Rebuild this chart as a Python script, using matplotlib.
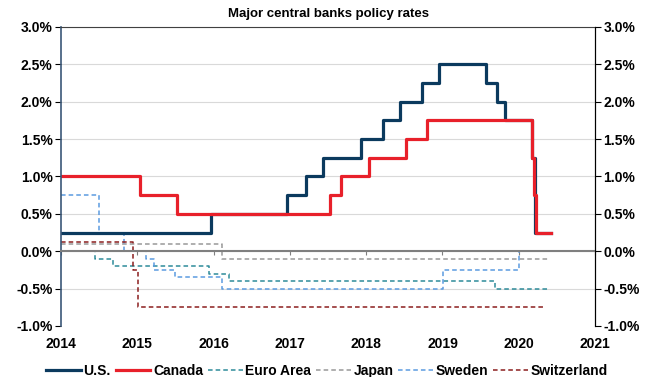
import matplotlib
matplotlib.use("Agg")
import matplotlib.pyplot as plt
from matplotlib.ticker import FuncFormatter

plt.rcParams['font.family'] = ['Liberation Sans', 'DejaVu Sans']
plt.rcParams['font.weight'] = 'bold'
plt.rcParams['font.size'] = 10

# policy rate change points (decimal year, rate %), held until the next point
us_x = [2014.0, 2015.96, 2016.96, 2017.21, 2017.43, 2017.93, 2018.22, 2018.44,
        2018.73, 2018.95, 2019.57, 2019.71, 2019.82, 2020.17, 2020.21, 2020.42]
us_y = [0.25, 0.5, 0.75, 1.0, 1.25, 1.5, 1.75, 2.0,
        2.25, 2.5, 2.25, 2.0, 1.75, 1.25, 0.25, 0.25]

ca_x = [2014.0, 2015.04, 2015.52, 2017.53, 2017.67, 2018.04, 2018.52, 2018.8,
        2020.17, 2020.2, 2020.23, 2020.42]
ca_y = [1.0, 0.75, 0.5, 0.75, 1.0, 1.25, 1.5, 1.75,
        1.25, 0.75, 0.25, 0.25]

ea_x = [2014.0, 2014.44, 2014.68, 2015.94, 2016.2, 2019.69, 2020.4]
ea_y = [0.0, -0.1, -0.2, -0.3, -0.4, -0.5, -0.5]

jp_x = [2014.0, 2016.11, 2020.4]
jp_y = [0.1, -0.1, -0.1]

se_x = [2014.0, 2014.5, 2014.82, 2015.12, 2015.22, 2015.5, 2016.11, 2019.01,
        2020.0, 2020.36]
se_y = [0.75, 0.25, 0.0, -0.1, -0.25, -0.35, -0.5, -0.25, 0.0, 0.0]

ch_x = [2014.0, 2014.95, 2015.01, 2020.35]
ch_y = [0.125, -0.25, -0.75, -0.75]

years = list(range(2014, 2022))
y_ticks = [-1.0, -0.5, 0.0, 0.5, 1.0, 1.5, 2.0, 2.5, 3.0]

fig = plt.figure(figsize=(6.54, 3.77), dpi=100)
ax = fig.add_axes([0.0933, 0.1353, 0.8165, 0.7931])

ax.step(ea_x, ea_y, where='post', color='#2E8B9A', lw=1.1, dashes=(3, 2), label='Euro Area')
ax.step(jp_x, jp_y, where='post', color='#999999', lw=1.1, dashes=(3, 2), label='Japan')
ax.step(se_x, se_y, where='post', color='#5B9BE0', lw=1.1, dashes=(3, 2), label='Sweden')
ax.step(ch_x, ch_y, where='post', color='#8B1E1E', lw=1.1, dashes=(3, 2), label='Switzerland')
ax.step(us_x, us_y, where='post', color='#0B3A5E', lw=2.3, label='U.S.')
ax.step(ca_x, ca_y, where='post', color='#E8202A', lw=2.3, label='Canada')

ax.set_xlim(2014, 2021)
ax.set_ylim(-1.0, 3.0)
ax.set_yticks(y_ticks)
ax.set_xticks(years)
pct = FuncFormatter(lambda v, p: f"{v:.1f}%")
ax.yaxis.set_major_formatter(pct)

ax.yaxis.grid(True, color='#D9D9D9', lw=0.8)
ax.set_axisbelow(True)
ax.get_ygridlines()[0].set_visible(False)

ax.spines['bottom'].set_position(('data', 0))
ax.spines['bottom'].set_color('#7F7F7F')
ax.spines['bottom'].set_linewidth(1.5)
ax.spines['left'].set_color('#3B5878')
ax.spines['left'].set_linewidth(1.2)
ax.spines['top'].set_color('#404040')
ax.spines['right'].set_color('black')
ax.tick_params(axis='x', direction='out', length=3, color='#7F7F7F', pad=59)
ax.tick_params(axis='y', direction='out', length=4, pad=2)

ax2 = ax.twinx()
ax2.set_ylim(-1.0, 3.0)
ax2.set_yticks(y_ticks)
ax2.yaxis.set_major_formatter(pct)
ax2.tick_params(axis='y', direction='out', length=4, pad=2)
for s in ['left', 'bottom', 'top']:
    ax2.spines[s].set_visible(False)

ax.set_title("Major central banks policy rates", fontsize=9.5, fontweight='bold', pad=7)

handles, labels = ax.get_legend_handles_labels()
order = [4, 5, 0, 1, 2, 3]
fig.legend([handles[i] for i in order], [labels[i] for i in order],
           loc='lower center', bbox_to_anchor=(0.5, -0.035), ncol=6, frameon=False,
           handlelength=2.5, handletextpad=0.2, columnspacing=0.35, fontsize=10)

plt.savefig("out.png", dpi=100)
plt.close()
